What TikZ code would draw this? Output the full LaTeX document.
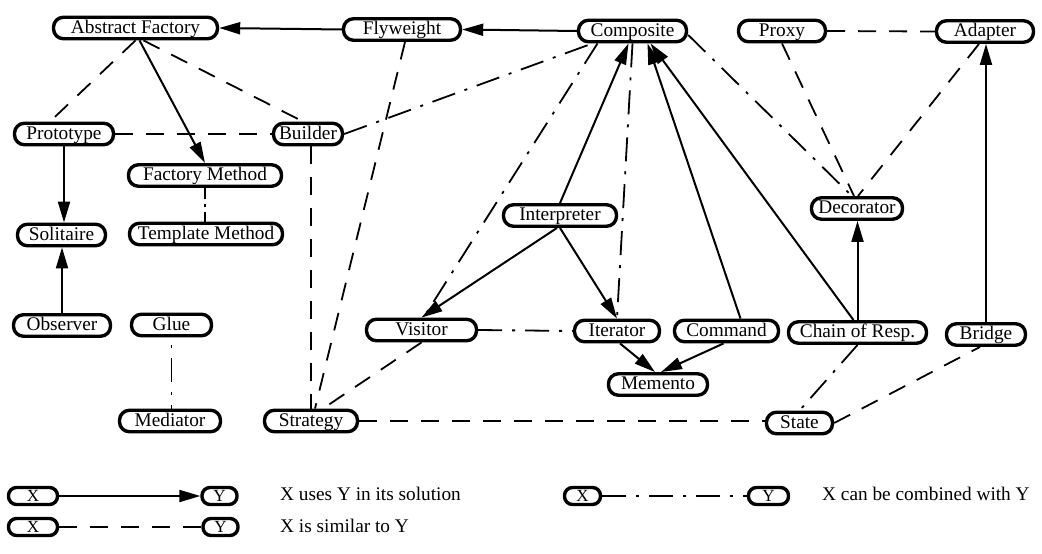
\documentclass[tikz,border=0pt]{standalone}
\usepackage{fontspec}
\setmainfont{Liberation Serif}
\usetikzlibrary{arrows.meta}

\begin{document}
\begin{tikzpicture}[x=1pt,y=-1pt,
  pat/.style={draw=black, line width=3.4pt, rounded corners=10pt, inner sep=0pt,
    minimum height=21.5pt, font=\fontsize{19.3}{21}\selectfont,
    text height=14.5pt, text depth=4pt},
  key/.style={draw=black, line width=3.4pt, rounded corners=8pt, inner sep=0pt,
    minimum height=17pt, font=\fontsize{17}{19}\selectfont,
    text height=12pt, text depth=0.5pt},
  uses/.style={line width=2pt, -{Triangle[length=21pt,width=12pt]}},
  similar/.style={line width=1.8pt, dash pattern=on 18pt off 13pt},
  combined/.style={line width=1.8pt, dash pattern=on 24pt off 10pt on 3pt off 10pt},
  lbl/.style={font=\fontsize{19.3}{21}\selectfont, anchor=west, inner sep=0pt,
    text height=13pt, text depth=4pt}
]
\useasboundingbox (0,0) rectangle (1042,554);

% pattern nodes
\node[pat, minimum width=164pt] (af) at (135.5,28) {Abstract Factory};
\node[pat, minimum width=117pt] (fly) at (402,29.5) {Flyweight};
\node[pat, minimum width=108pt] (comp) at (632.5,31) {Composite};
\node[pat, minimum width=87pt] (proxy) at (782,31) {Proxy};
\node[pat, minimum width=97pt] (adapter) at (985,31.5) {Adapter};
\node[pat, minimum width=99pt] (proto) at (64,134) {Prototype};
\node[pat, minimum width=69pt] (builder) at (308,134) {Builder};
\node[pat, minimum width=153pt] (fm) at (205,175.5) {Factory Method};
\node[pat, minimum width=153pt] (tm) at (206,234) {Template Method};
\node[pat, minimum width=88pt] (sol) at (61.5,235) {Solitaire};
\node[pat, minimum width=113pt] (interp) at (560,215.5) {Interpreter};
\node[pat, minimum width=91pt] (dec) at (857,208.5) {Decorator};
\node[pat, minimum width=97pt] (obs) at (62,325.5) {Observer};
\node[pat, minimum width=80pt] (glue) at (171.5,325) {Glue};
\node[pat, minimum width=110pt] (visitor) at (421.5,330) {Visitor};
\node[pat, minimum width=85pt] (iter) at (617,331) {Iterator};
\node[pat, minimum width=104pt] (cmd) at (726.5,331) {Command};
\node[pat, minimum width=138pt] (chain) at (857.5,332.5) {Chain of Resp.};
\node[pat, minimum width=79pt] (bridge) at (986,334.5) {Bridge};
\node[pat, minimum width=99pt] (memento) at (658,384.5) {Memento};
\node[pat, minimum width=101pt] (mediator) at (170,421) {Mediator};
\node[pat, minimum width=93pt] (strategy) at (311,421) {Strategy};
\node[pat, minimum width=66pt] (state) at (799.5,423) {State};

% "uses" relations
\draw[uses] (fly.west) -- (af.east);
\draw[uses] (comp.west) -- (fly.east);
\draw[uses] ([xshift=4pt]af.south) -- (fm.north);
\draw[uses] (proto.south) -- (proto.south |- sol.north);
\draw[uses] (obs.north) -- (obs.north |- sol.south);
\draw[uses] (interp.north) -- ([xshift=-4pt]comp.south);
\draw[uses] ([xshift=-3pt]interp.south) -- (visitor.north);
\draw[uses] (interp.south) -- (iter.north);
\draw[uses] ([xshift=14pt]cmd.north) -- ([xshift=15pt]comp.south);
\draw[uses] ([xshift=-4pt]chain.north) -- ([xshift=18pt]comp.south);
\draw[uses] ([xshift=3pt]iter.south) -- ([xshift=-3pt]memento.north);
\draw[uses] ([xshift=-3pt]cmd.south) -- ([xshift=3pt]memento.north);
\draw[uses] (chain.north) -- (chain.north |- dec.south);
\draw[uses] (bridge.north) -- (bridge.north |- adapter.south);

% "similar" relations
\draw[similar] (af.south) -- ([xshift=-14pt]proto.north);
\draw[similar] ([xshift=8pt]af.south) -- ([xshift=-5pt]builder.north);
\draw[similar] (proto.east) -- (builder.west);
\draw[similar] ([xshift=3pt]builder.south) -- ([xshift=3pt]builder.south |- strategy.north);
\draw[similar] ([xshift=3pt]fly.south) -- ([xshift=4pt]strategy.north);
\draw[similar] (visitor.south) -- ([xshift=12pt]strategy.north);
\draw[similar] (strategy.east) -- (strategy.east -| state.west);
\draw[similar] (state.east) -- ([xshift=-6pt]bridge.south);
\draw[similar] (proxy.east) -- (adapter.west);
\draw[similar] (proxy.south) -- ([xshift=-3pt]dec.north);
\draw[similar] ([xshift=-6pt]adapter.south) -- ([xshift=1pt]dec.north);

% "combined" relations
\draw[combined] (builder.east) -- ([xshift=-40pt]comp.south);
\draw[combined] ([xshift=-35pt]comp.south) -- ([xshift=2pt]visitor.north);
\draw[combined] (comp.south) -- (iter.north);
\draw[combined] ([yshift=-4pt]comp.east) -- ([xshift=-5pt]dec.north);
\draw[combined] (visitor.east) -- (iter.west);
\draw[combined] (chain.south) -- (state.north);
\draw[line width=1.8pt, dash pattern=on 11pt off 5pt on 3pt off 5pt on 20pt]
  (fm.south) -- (fm.south |- tm.north);
\draw[combined, dash phase=26pt] (glue.south) -- (glue.south |- mediator.north);

% legend
\node[key, minimum width=49pt] (x1) at (33,496) {X};
\node[key, minimum width=35pt] (y1) at (219.5,496) {Y};
\node[key, minimum width=49pt] (x2) at (33,527) {X};
\node[key, minimum width=35pt] (y2) at (220.5,527) {Y};
\node[key, minimum width=36pt] (x3) at (582.5,496) {X};
\node[key, minimum width=40pt] (y3) at (768.5,496) {Y};
\draw[uses] (x1.east) -- (y1.west);
\draw[similar] (x2.east) -- (y2.west);
\draw[combined] (x3.east) -- (y3.west);
\node[lbl] (t1) at (280,496) {X uses Y in its solution};
\node[lbl] (t2) at (280,528) {X is similar to Y};
\node[lbl] (t3) at (822,496) {X can be combined with Y};
\end{tikzpicture}
\end{document}
